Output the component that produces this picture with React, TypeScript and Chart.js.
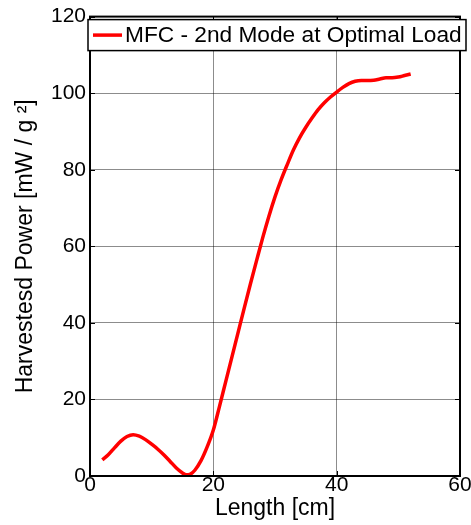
import React, { useEffect, useRef } from "react";
import { Chart, registerables } from "chart.js";

Chart.register(...registerables);

const seriesLabel = "MFC - 2nd Mode at Optimal Load";
const xTitle = "Length [cm]";
const yTitle = "Harvestesd Power [mW / g \u00B2]";

const lengthCm = [
  2, 3, 4, 5, 6, 7, 8, 9, 10, 11, 12, 13, 14, 15, 15.6, 16.3, 17, 18, 19, 20,
  21, 22, 23, 24, 25, 26, 27, 28, 29, 30, 31, 32, 33, 34, 35, 36, 37, 38, 39,
  40, 41, 42, 43, 44, 45, 46, 47, 48, 49, 50, 51, 52,
];
const powerMw = [
  4.2, 5.6, 7.4, 9.1, 10.3, 10.8, 10.4, 9.5, 8.3, 7.0, 5.5, 3.8, 2.1, 0.8, 0.3,
  0.5, 1.5, 4.0, 7.6, 12.0, 18.2, 24.6, 31.0, 37.4, 43.8, 50.1, 56.2, 62.2,
  67.8, 72.9, 77.4, 81.4, 85.2, 88.4, 91.1, 93.5, 95.7, 97.5, 99.0, 100.3,
  101.5, 102.5, 103.1, 103.3, 103.3, 103.4, 103.7, 104.0, 104.0, 104.2, 104.6,
  105,
];

const xMin = 0;
const xMax = 60;
const xStep = 20;
const yMin = 0;
const yMax = 120;
const yStep = 20;

const FONT = "'Liberation Sans', Arial, Helvetica, sans-serif";

const framePlugin = {
  id: "frameAndTicks",
  afterDatasetsDraw(chart: any) {
    const { ctx, chartArea, scales } = chart;
    const { left, right, top, bottom } = chartArea;
    ctx.save();
    ctx.strokeStyle = "#000";
    ctx.lineWidth = 1;
    const tl = 5;
    ctx.beginPath();
    scales.y.ticks.forEach((t: any) => {
      const py = Math.round(scales.y.getPixelForValue(t.value)) + 0.5;
      ctx.moveTo(left, py);
      ctx.lineTo(left + tl, py);
      ctx.moveTo(right, py);
      ctx.lineTo(right - tl, py);
    });
    scales.x.ticks.forEach((t: any) => {
      const px = Math.round(scales.x.getPixelForValue(t.value)) + 0.5;
      ctx.moveTo(px, bottom);
      ctx.lineTo(px, bottom - tl);
      ctx.moveTo(px, top);
      ctx.lineTo(px, top + tl);
    });
    ctx.stroke();
    ctx.lineWidth = 2;
    ctx.strokeRect(left, top, right - left, bottom - top);
    ctx.restore();
  },
  afterDraw(chart: any) {
    const { ctx, chartArea } = chart;
    const ds = chart.data.datasets[0];
    ctx.save();
    ctx.font = `22.7px ${FONT}`;
    const boxLeft = chartArea.left - 2;
    const boxTop = chartArea.top + 3;
    const boxRight = chartArea.right + 6;
    const boxH = 31;
    ctx.fillStyle = "#fff";
    ctx.fillRect(boxLeft, boxTop, boxRight - boxLeft, boxH);
    ctx.strokeStyle = "#000";
    ctx.lineWidth = 1.5;
    ctx.strokeRect(boxLeft, boxTop, boxRight - boxLeft, boxH);
    const midY = boxTop + boxH / 2;
    ctx.strokeStyle = ds.borderColor;
    ctx.lineWidth = 3.5;
    ctx.beginPath();
    ctx.moveTo(boxLeft + 5, midY);
    ctx.lineTo(boxLeft + 34, midY);
    ctx.stroke();
    ctx.fillStyle = "#000";
    ctx.textAlign = "left";
    ctx.textBaseline = "middle";
    ctx.fillText(ds.label, boxLeft + 37, midY + 1);
    ctx.restore();
  },
};

export default function App() {
  const canvasRef = useRef<HTMLCanvasElement | null>(null);

  useEffect(() => {
    if (!canvasRef.current) return;
    const points = lengthCm.map((x, i) => ({ x, y: powerMw[i] }));
    const chart = new Chart(canvasRef.current, {
      type: "line",
      data: {
        datasets: [
          {
            label: seriesLabel,
            data: points,
            borderColor: "#ff0000",
            borderWidth: 3.5,
            pointRadius: 0,
            cubicInterpolationMode: "monotone",
            fill: false,
          },
        ],
      },
      options: {
        animation: false,
        responsive: true,
        maintainAspectRatio: false,
        layout: { padding: { top: 15, right: 11, left: 0, bottom: 0 } },
        plugins: {
          legend: { display: false },
          tooltip: { enabled: false },
        },
        scales: {
          x: {
            type: "linear",
            min: xMin,
            max: xMax,
            ticks: {
              stepSize: xStep,
              color: "#000",
              font: { family: FONT, size: 21 },
              padding: -3,
              maxRotation: 0,
            },
            grid: {
              color: "rgba(0,0,0,0.45)",
              lineWidth: 1,
              tickLength: 0,
            },
            border: { display: false },
            title: {
              display: true,
              text: xTitle,
              color: "#000",
              font: { family: FONT, size: 23 },
              padding: { top: 0, bottom: 3 },
            },
            afterFit(scale: any) {
              scale.height = 49;
            },
          },
          y: {
            type: "linear",
            min: yMin,
            max: yMax,
            ticks: {
              stepSize: yStep,
              color: "#000",
              font: { family: FONT, size: 21 },
              padding: 4,
            },
            grid: {
              color: "rgba(0,0,0,0.45)",
              lineWidth: 1,
              tickLength: 0,
            },
            border: { display: false },
            title: {
              display: true,
              text: yTitle,
              color: "#000",
              font: { family: FONT, size: 23 },
              padding: { top: 12, bottom: 0 },
            },
            afterFit(scale: any) {
              scale.width = 90;
            },
          },
        },
      },
      plugins: [framePlugin],
    });
    return () => chart.destroy();
  }, []);

  return (
    <div
      style={{
        position: "absolute",
        left: 0,
        top: 0,
        width: 471,
        height: 525,
        background: "#fff",
      }}
    >
      <canvas ref={canvasRef} />
    </div>
  );
}
